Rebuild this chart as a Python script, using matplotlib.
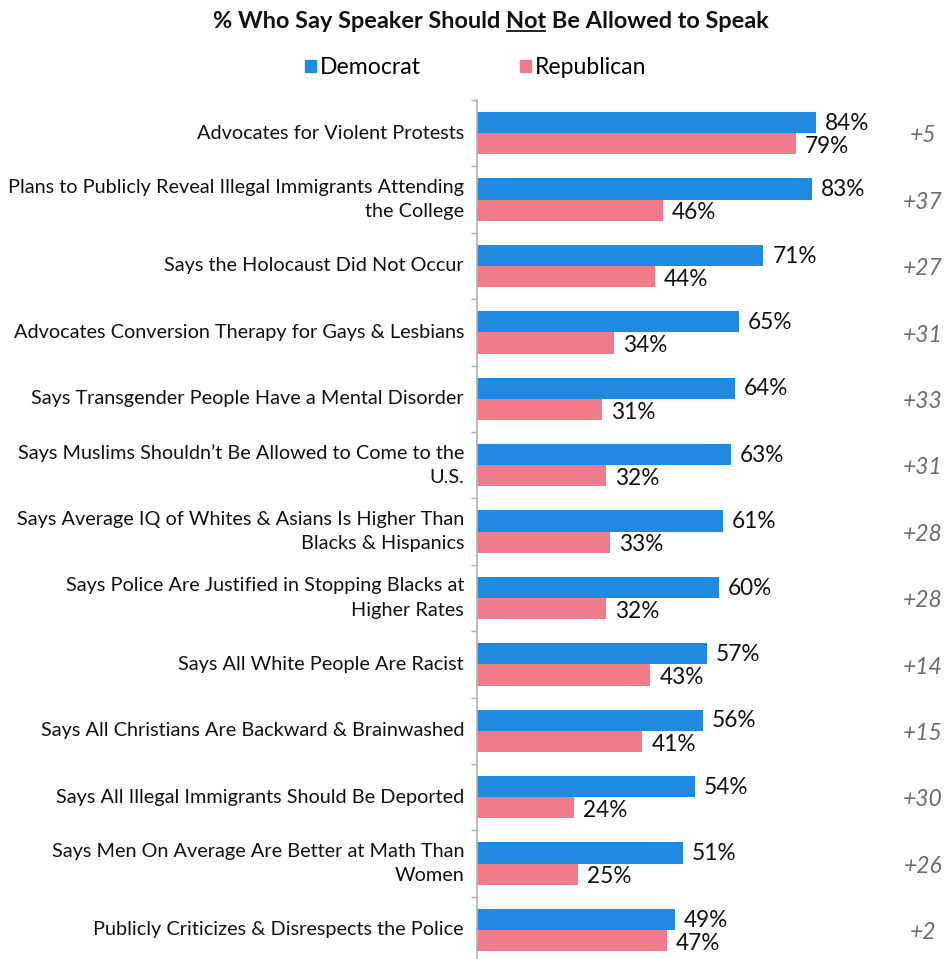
import matplotlib
matplotlib.use("Agg")
import matplotlib.pyplot as plt
from matplotlib.patches import Rectangle
from matplotlib.lines import Line2D
import numpy as np

plt.rcParams['font.family'] = ['Lato', 'DejaVu Sans']

categories = [
    "Advocates for Violent Protests",
    "Plans to Publicly Reveal Illegal Immigrants Attending\nthe College",
    "Says the Holocaust Did Not Occur",
    "Advocates Conversion Therapy for Gays & Lesbians",
    "Says Transgender People Have a Mental Disorder",
    "Says Muslims Shouldn\u2019t Be Allowed to Come to the\nU.S.",
    "Says Average IQ of Whites & Asians Is Higher Than\nBlacks & Hispanics",
    "Says Police Are Justified in Stopping Blacks at\nHigher Rates",
    "Says All White People Are Racist",
    "Says All Christians Are Backward & Brainwashed",
    "Says All Illegal Immigrants Should Be Deported",
    "Says Men On Average Are Better at Math Than\nWomen",
    "Publicly Criticizes & Disrespects the Police",
]
democrat = [84, 83, 71, 65, 64, 63, 61, 60, 57, 56, 54, 51, 49]
republican = [79, 46, 44, 34, 31, 32, 33, 32, 43, 41, 24, 25, 47]
differences = ["+5", "+37", "+27", "+31", "+33", "+31", "+28", "+28", "+14", "+15", "+30", "+26", "+2"]

BLUE = "#1f8ae0"
PINK = "#f07b8b"
GRAY = "#6b6b78"

W, H = 945, 959
fig = plt.figure(figsize=(W / 100, H / 100), dpi=100)
n = len(categories)
top_px, group_px = 100, 66.4
ax = fig.add_axes([477 / W, 1 - (top_px + n * group_px) / H, 468 / W, n * group_px / H])

y = np.arange(n)
bh = 0.32
ax.barh(y - bh / 2, democrat, height=bh, color=BLUE)
ax.barh(y + bh / 2, republican, height=bh, color=PINK)
ax.set_xlim(0, 116)
ax.set_ylim(n - 0.5, -0.5)

for s in ["top", "right", "bottom"]:
    ax.spines[s].set_visible(False)
ax.spines["left"].set_color("#b0b0b0")
ax.spines["left"].set_linewidth(1.2)
ax.set_xticks([])
ax.set_yticks(np.arange(n + 1) - 0.5)
ax.set_yticklabels([])
ax.tick_params(axis="y", length=4, color="#b0b0b0", width=1)

for i in range(n):
    ax.text(-3.2, y[i], categories[i], ha="right", va="center", fontsize=14.3,
            color="#111111", linespacing=1.55)
    ax.text(democrat[i] + 2.2, y[i] - bh / 2 + 0.01, f"{democrat[i]}%", ha="left", va="center",
            fontsize=16.3, color="#111111")
    ax.text(republican[i] + 2.2, y[i] + bh / 2 + 0.04, f"{republican[i]}%", ha="left", va="center",
            fontsize=16.3, color="#111111")
    ax.text(110.5, y[i] + 0.04, differences[i], ha="center", va="center", fontsize=16.5,
            color=GRAY, style="italic")

# Title with underlined "Not"
title_prefix = "% Who Say Speaker Should "
title_word = "Not"
title_suffix = " Be Allowed to Speak"
title_kw = dict(fontsize=16.9, fontweight="bold", color="#111111", va="center")
tx, ty = 491 / W, 1 - 21 / H
t = fig.text(tx, ty, title_prefix + title_word + title_suffix, ha="center", **title_kw)
fig.canvas.draw()
r = fig.canvas.get_renderer()
bb = t.get_window_extent(r)
tmp = fig.text(0, 0, title_prefix, **title_kw)
w_pre = tmp.get_window_extent(r).width
tmp.set_text(title_prefix + title_word)
w_word = tmp.get_window_extent(r).width
tmp.remove()
ux0 = bb.x0 + w_pre + 1
ux1 = bb.x0 + w_word - 1
uy = bb.y0 + 1
fig.add_artist(Line2D([ux0 / W, ux1 / W], [uy / H, uy / H], transform=fig.transFigure,
                      color="#111111", lw=1.3))

handles = [Rectangle((0, 0), 1, 1, color=BLUE), Rectangle((0, 0), 1, 1, color=PINK)]
fig.legend(handles, ["Democrat", "Republican"], loc="center", bbox_to_anchor=(476 / W, 1 - 68 / H),
           ncol=2, frameon=False, fontsize=16.6, handlelength=0.45, handleheight=0.45,
           handletextpad=0.2, columnspacing=4.3)

fig.savefig("out.png", dpi=100, facecolor="white")
